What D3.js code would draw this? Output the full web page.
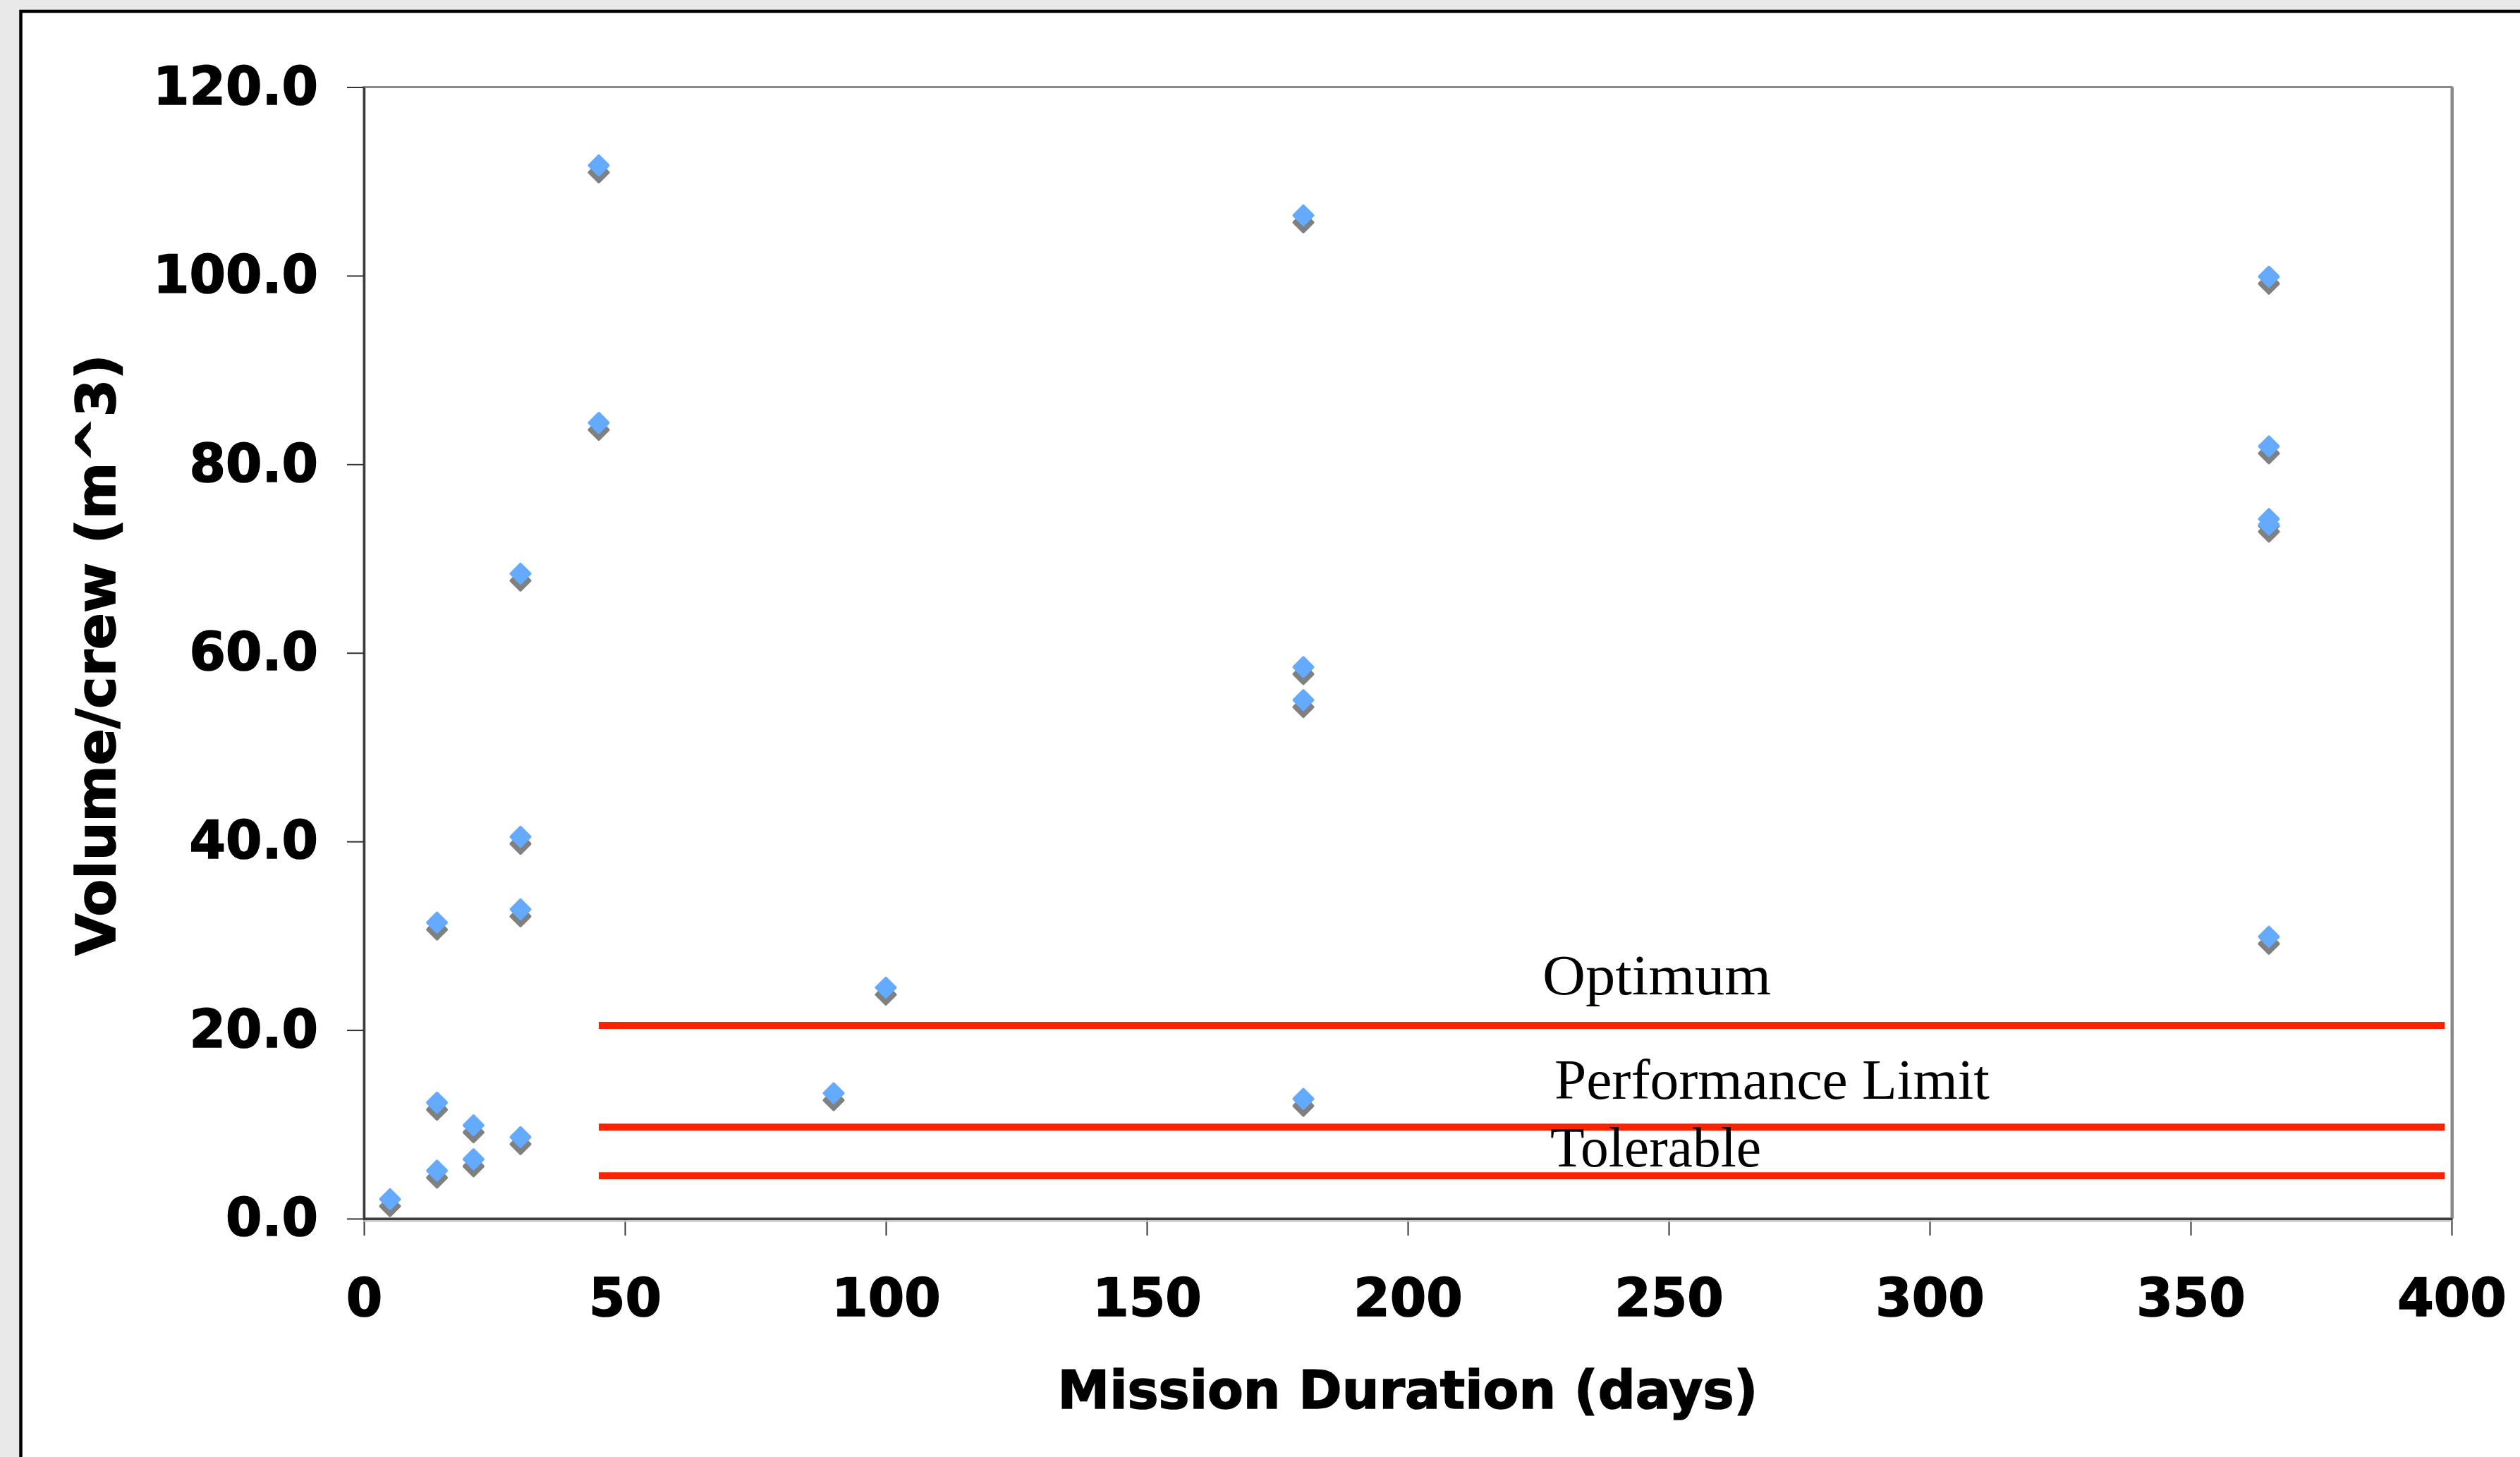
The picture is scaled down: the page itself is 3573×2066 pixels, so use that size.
<!DOCTYPE html>
<html>
<head>
<meta charset="utf-8">
<script src="https://cdn.jsdelivr.net/npm/d3@7"></script>
<style>
  html, body { margin: 0; padding: 0; background: #e9e9e9; overflow: hidden; }
  svg { display: block; }
</style>
</head>
<body>
<svg id="chart" width="3573" height="2066"></svg>
<script>
// ---- data ----
const durations = [5, 14, 14, 14, 21, 21, 30, 30, 30, 30, 45, 45, 90, 100, 180, 180, 180, 180, 365, 365, 365, 365, 365];
const volumes   = [2.07, 31.4, 12.3, 5.1, 9.9, 6.3, 68.4, 40.5, 32.8, 8.65, 111.7, 84.4, 13.3, 24.5, 106.4, 58.5, 55.0, 12.7, 99.9, 81.9, 74.2, 73.6, 29.9];

const limitLabels = ["Optimum", "Performance Limit", "Tolerable"];
const limitValues = [20.5, 9.7, 4.55];
const limitStart  = [45, 45, 45];
const limitEnd    = [398.7, 398.7, 398.7];
const labelX      = [225.8, 228.1, 227.3];
const labelY      = [23.8, 12.7, 5.53];

const xTicks = [0, 50, 100, 150, 200, 250, 300, 350, 400];
const yTicks = [0, 20, 40, 60, 80, 100, 120];
const xTitle = "Mission Duration (days)";
const yTitle = "Volume/crew (m^3)";

// ---- layout ----
const svg = d3.select("#chart");
const L = 516, R = 3476, T = 123.5, B = 1728;

const x = d3.scaleLinear().domain([0, 400]).range([L, R]);
const y = d3.scaleLinear().domain([0, 120]).range([B, T]);

// slide frame
svg.append("rect").attr("x", 29.5).attr("y", 16).attr("width", 3573).attr("height", 2100)
  .attr("fill", "#ffffff").attr("stroke", "#000").attr("stroke-width", 4.5);

// plot area border
svg.append("rect").attr("x", L).attr("y", T).attr("width", R - L).attr("height", B - T)
  .attr("fill", "#ffffff").attr("stroke", "#8a8a8a").attr("stroke-width", 3);
svg.append("line").attr("x1", R + 1).attr("x2", R + 1).attr("y1", T).attr("y2", B)
  .attr("stroke", "#8a8a8a").attr("stroke-width", 4);

// threshold lines
const limits = limitValues.map((v, i) => ({v, label: limitLabels[i], x0: limitStart[i], x1: limitEnd[i], lx: labelX[i], ly: labelY[i]}));
svg.append("g").selectAll("line").data(limits).join("line")
  .attr("x1", d => x(d.x0)).attr("x2", d => x(d.x1))
  .attr("y1", d => y(d.v)).attr("y2", d => y(d.v))
  .attr("stroke", "#ff2200").attr("stroke-width", 10);

const labelWidths = [324, 617, 299];
svg.append("g").selectAll("text").data(limits).join("text")
  .attr("x", d => x(d.lx)).attr("y", d => y(d.ly))
  .attr("font-family", "'Liberation Serif', 'DejaVu Serif', serif")
  .attr("font-size", 80).attr("fill", "#000")
  .attr("textLength", (d, i) => labelWidths[i]).attr("lengthAdjust", "spacingAndGlyphs")
  .text(d => d.label);

// markers
const pts = durations.map((d, i) => ({d, v: volumes[i]}));
const dPath = "M0,-13.5L13.5,0L0,13.5L-13.5,0Z";
const gm = svg.append("g");
gm.selectAll("path.sh").data(pts).join("path").attr("class", "sh")
  .attr("d", dPath)
  .attr("transform", p => `translate(${x(p.d)},${y(p.v) + 10})`)
  .attr("fill", "#808080").attr("stroke", "#808080").attr("stroke-width", 4).attr("stroke-linejoin", "round");
gm.selectAll("path.mk").data(pts).join("path").attr("class", "mk")
  .attr("d", dPath)
  .attr("transform", p => `translate(${x(p.d)},${y(p.v)})`)
  .attr("fill", "#64aaff").attr("stroke", "#64aaff").attr("stroke-width", 4).attr("stroke-linejoin", "round");

// axes
const yAxis = svg.append("g").attr("transform", `translate(${L},0)`)
  .call(d3.axisLeft(y).tickValues(yTicks).tickFormat(d3.format(".1f")).tickSize(24).tickPadding(41).tickSizeOuter(0));
const xAxis = svg.append("g").attr("transform", `translate(0,${B})`)
  .call(d3.axisBottom(x).tickValues(xTicks).tickFormat(d3.format("d")).tickSize(24).tickPadding(61).tickSizeOuter(0));

[yAxis, xAxis].forEach(g => {
  g.select(".domain").attr("stroke", "#3c3c3c").attr("stroke-width", 3.5);
  g.selectAll(".tick line").attr("stroke", "#333").attr("stroke-width", 2);
  g.selectAll(".tick text").attr("fill", "#000")
    .attr("stroke", "#000").attr("stroke-width", 1.6)
    .attr("font-family", "'DejaVu Sans', Verdana, sans-serif")
    .attr("font-weight", "bold").attr("font-size", 74);
});
// subtle shadow under the axis lines
svg.append("line").attr("x1", L).attr("x2", R).attr("y1", B + 3.5).attr("y2", B + 3.5)
  .attr("stroke", "#c8c8c8").attr("stroke-width", 2.5);

// axis titles
svg.append("text").attr("x", (L + R) / 2).attr("y", 1997)
  .attr("text-anchor", "middle")
  .attr("font-family", "'DejaVu Sans', Verdana, sans-serif")
  .attr("font-weight", "bold").attr("font-size", 74).attr("fill", "#000")
  .attr("stroke", "#000").attr("stroke-width", 1.6)
  .text(xTitle);
svg.append("text")
  .attr("transform", `translate(163,${(T + B) / 2 + 3}) rotate(-90)`)
  .attr("text-anchor", "middle")
  .attr("font-family", "'DejaVu Sans', Verdana, sans-serif")
  .attr("font-weight", "bold").attr("font-size", 77).attr("fill", "#000")
  .attr("stroke", "#000").attr("stroke-width", 1.6)
  .text(yTitle);
</script>
</body>
</html>
